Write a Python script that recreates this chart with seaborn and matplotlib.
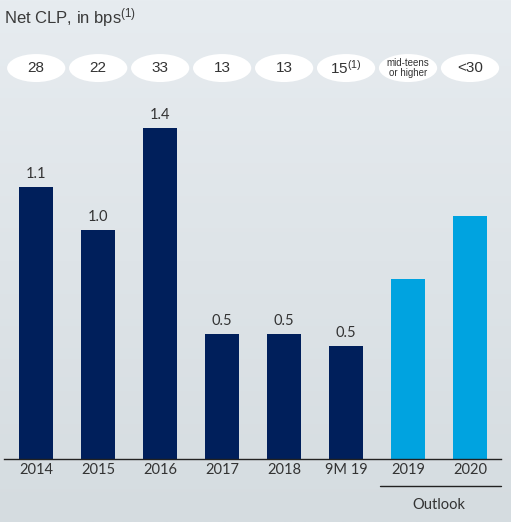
import numpy as np
import pandas as pd
import matplotlib
matplotlib.use("Agg")
import matplotlib.pyplot as plt
import matplotlib.transforms as mtransforms
from matplotlib.patches import Ellipse
import seaborn as sns

# Data
periods = ["2014", "2015", "2016", "2017", "2018", "9M 19", "2019", "2020"]
clp_values = [1.15, 0.97, 1.40, 0.53, 0.53, 0.48, 0.76, 1.03]
value_labels = ["1.1", "1.0", "1.4", "0.5", "0.5", "0.5", "", ""]
kinds = ["actual"] * 6 + ["outlook"] * 2
bps_labels = ["28", "22", "33", "13", "13", "15$^{(1)}$", "mid-teens\nor higher", "<30"]

NAVY = "#001f5b"
LIGHT_BLUE = "#00a3e0"
TEXT = "#333333"

sns.set_theme(style="white")
plt.rcParams["font.family"] = ["Lato", "DejaVu Sans"]
plt.rcParams["mathtext.default"] = "regular"

df = pd.DataFrame({"period": periods, "value": clp_values, "kind": kinds})

fig = plt.figure(figsize=(5.11, 5.22), dpi=100)

# background gradient
bg = fig.add_axes([0, 0, 1, 1], zorder=-10)
top = np.array([231, 236, 240]) / 255
bot = np.array([213, 220, 224]) / 255
t = np.linspace(0, 1, 256)[:, None]
grad = (top * (1 - t) + bot * t)[:, None, :]
bg.imshow(grad, aspect="auto", extent=[0, 1, 0, 1])
bg.axis("off")

ax = fig.add_axes([4 / 511, 1 - 459 / 522, 497 / 511, 359 / 522])
ax.patch.set_alpha(0)

sns.barplot(data=df, x="period", y="value", hue="kind",
            palette={"actual": NAVY, "outlook": LIGHT_BLUE},
            width=0.55, legend=False, saturation=1, linewidth=0,
            edgecolor="none", ax=ax)

ax.set_ylim(0, 1.519)
ax.set_xlim(-0.52, 7.5)
for s in ["top", "left", "right"]:
    ax.spines[s].set_visible(False)
ax.spines["bottom"].set_color("#222222")
ax.spines["bottom"].set_linewidth(1.0)
ax.set_yticks([])
ax.set_xlabel("")
ax.set_ylabel("")
ax.tick_params(axis="x", length=0, pad=3, labelsize=10.5, labelcolor=TEXT)

# value labels above the bars
for i, (v, lab) in enumerate(zip(clp_values, value_labels)):
    if lab:
        ax.text(i, v + 0.025, lab, ha="center", va="bottom", fontsize=10.5, color=TEXT)

# bps ellipses on top
trans = mtransforms.blended_transform_factory(ax.transData, ax.transAxes)
sans = ["Liberation Sans", "DejaVu Sans"]
for i, lab in enumerate(bps_labels):
    ax.add_patch(Ellipse((i, 1.089), 0.94, 0.078, transform=trans,
                         facecolor="white", edgecolor="none", clip_on=False))
    if "\n" in lab:
        ax.text(i, 1.089, lab, transform=trans, ha="center", va="center",
                fontsize=7, color=TEXT, linespacing=1.0, family=sans)
    else:
        ax.text(i, 1.089, lab, transform=trans, ha="center", va="center",
                fontsize=11, color=TEXT, family=sans)

# outlook bracket
ax.plot([5.55, 7.5], [-0.075, -0.075], transform=trans, color="#222222",
        lw=1.0, clip_on=False)
ax.text(6.5, -0.128, "Outlook", transform=trans, ha="center", va="center",
        fontsize=10.5, color=TEXT)

fig.text(4 / 511, 1 - 18 / 522, "Net CLP, in bps$^{(1)}$", ha="left", va="center",
         fontsize=12, color="#3a3a3a", family=sans)

fig.savefig("out.png", dpi=100)
